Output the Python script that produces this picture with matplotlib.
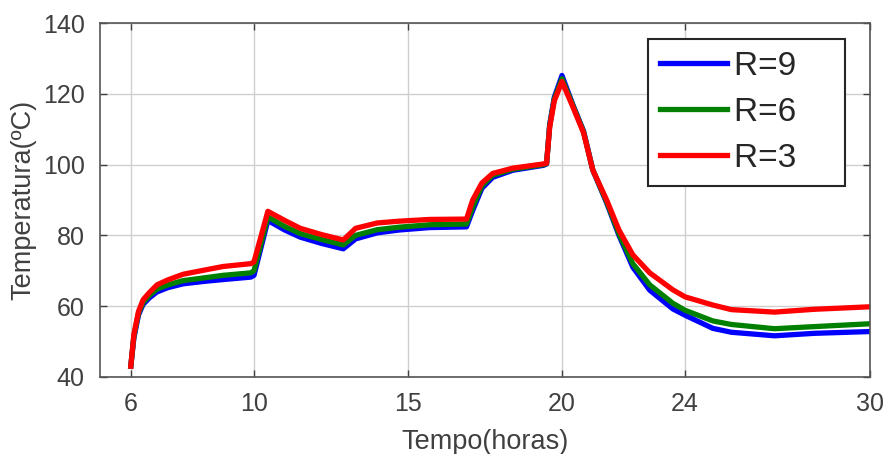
import numpy as np
import matplotlib.pyplot as plt

plt.rcParams['font.family'] = ['Liberation Sans', 'DejaVu Sans']

# time (hours) and temperatures (ºC) for each R
t = [6.0, 6.1, 6.25, 6.4, 6.6, 6.85, 7.2, 7.7, 8.4, 9.0, 9.9, 10.0, 10.45, 11.0,
     11.5, 12.2, 12.9, 13.3, 14.0, 14.7, 15.7, 16.9, 17.1, 17.4, 17.75, 18.4,
     19.4, 19.5, 19.6, 19.75, 20.0, 20.35, 20.7, 21.0, 21.45, 21.85, 22.3,
     22.85, 23.6, 24.0, 24.9, 25.5, 26.9, 28.2, 30.0]

T_r9 = [43, 51, 57.5, 60.5, 62.3, 64, 65.2, 66.3, 67, 67.5, 68.2, 68.7, 84.2, 81.5,
        79.5, 77.7, 76.2, 79, 80.7, 81.5, 82.2, 82.4, 87, 93.3, 96.4, 98.4,
        99.8, 100.2, 111.3, 119, 125.2, 117, 109.5, 98.5, 89.2, 80, 71,
        64.5, 59.2, 57.4, 53.7, 52.6, 51.6, 52.3, 52.8]

T_r6 = [43, 51.5, 58, 61, 63, 64.8, 66, 67.2, 68, 68.7, 69.4, 70, 85.2, 82.5,
        80.5, 78.8, 77.3, 80, 81.6, 82.3, 83, 83.2, 88, 94, 97, 98.7,
        100, 100.3, 111, 118.5, 124.3, 116.8, 109.3, 98.5, 89.5, 80.5, 72,
        66, 60.8, 58.8, 55.8, 54.8, 53.6, 54.2, 55.0]

T_r3 = [43, 52, 58.5, 61.8, 63.8, 66, 67.4, 69, 70.2, 71.2, 72, 72.5, 86.8, 84.2,
        82, 80.2, 78.7, 82, 83.5, 84, 84.5, 84.6, 90, 94.8, 97.5, 99,
        100.2, 100.4, 110.5, 118, 123.5, 116.4, 109, 98.5, 90, 81.5, 74.5,
        69.4, 64.6, 62.6, 60.3, 59, 58.3, 59.1, 59.8]

labels = ['R=9', 'R=6', 'R=3']
colors = ['#0000ff', '#008000', '#ff0000']
xticks = [6, 10, 15, 20, 24, 30]
yticks = [40, 60, 80, 100, 120, 140]

fig = plt.figure(figsize=(8.85, 4.54), dpi=100)
ax = fig.add_axes([0.113, 0.170, 0.870, 0.779])

for T, lab, c in zip([T_r9, T_r6, T_r3], labels, colors):
    # trailing spaces keep the wide right margin inside the legend box
    ax.plot(t, T, color=c, lw=3.8, label=lab + '    ')

ax.set_xlim(5, 30)
ax.set_ylim(40, 140)
ax.set_xticks(xticks)
ax.set_yticks(yticks)
ax.grid(True, color='#cfcfcf', lw=1.0)
ax.set_axisbelow(True)

ax.tick_params(direction='in', length=5, width=1, colors='#404040',
               labelsize=18, top=True, right=True, pad=11)
for s in ax.spines.values():
    s.set_color('#555555')
    s.set_linewidth(1.2)

ax.set_xlabel('Tempo(horas)', fontsize=19.5, color='#404040', labelpad=9)
ax.set_ylabel('Temperatura(ºC)', fontsize=19.5, color='#404040', labelpad=5)

leg = ax.legend(loc='upper right', bbox_to_anchor=(0.9675, 0.954),
                borderaxespad=0, fontsize=24, handlelength=2.0,
                fancybox=False, framealpha=1, edgecolor='#262626',
                labelspacing=0.45, handletextpad=0.22, borderpad=0.35)
leg.get_frame().set_linewidth(1.5)
for txt in leg.get_texts():
    txt.set_color('#262626')

fig.savefig('out.png', dpi=100)
